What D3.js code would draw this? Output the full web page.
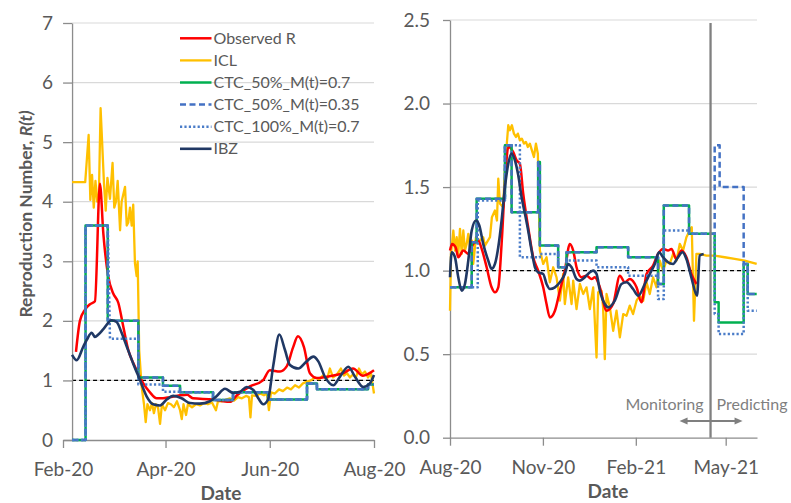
<!DOCTYPE html>
<html><head><meta charset="utf-8">
<script src="https://cdn.jsdelivr.net/npm/d3@7"></script>
<style>
html,body{margin:0;padding:0;background:#fff;}
svg{display:block;font-family:Lato,"Open Sans",sans-serif;}
</style></head><body>
<svg id="chart" width="791" height="503"></svg>
<script>
// ---------- DATA ----------
// x values are day offsets from the panel start date
const leftStart = "2020-02-01";
const rightStart = "2020-08-01";
const leftYAxisDay = 5.3;
const forecastDate = "2021-04-16";

const seriesLabels = ["Observed R", "ICL", "CTC_50%_M(t)=0.7", "CTC_50%_M(t)=0.35", "CTC_100%_M(t)=0.7", "IBZ"];

const leftYTicks = [0, 1, 2, 3, 4, 5, 6, 7];
const rightYTicks = [0, 0.5, 1.0, 1.5, 2.0, 2.5];
const leftXTicks = ["2020-02-01", "2020-04-01", "2020-06-01", "2020-08-01"];
const rightXTicks = ["2020-08-01", "2020-11-01", "2021-02-01", "2021-05-01"];

// ---- left panel (Feb-20 .. Aug-20)
const leftObserved = [[7.6,1.48],[9.9,2.0],[12.9,2.19],[15.8,2.28],[18.7,2.33],[21.6,4.3],[23.6,3.47],[26.5,2.74],[29.4,2.46],[32.4,2.3],[35.3,1.9],[38.2,1.51],[41,1.3],[43.1,1.17],[47,0.95],[50.9,0.8],[54.8,0.7],[58.5,0.7],[62.6,0.72],[68.5,0.75],[72.6,0.76],[76,0.7],[87.8,0.68],[93.6,0.65],[97.7,0.64],[101.8,0.75],[109.4,0.9],[117,1.0],[121,1.17],[127,1.15],[131,1.24],[134.6,1.55],[137.5,1.74],[141,1.56],[144.5,1.12],[148.6,1.04],[156,1.07],[163.8,1.12],[169.7,1.2],[175.5,1.08],[182,1.17]];

const leftICL = [[5.3,4.33],[13,4.33],[15,5.12],[16,4.03],[17,4.45],[18,3.9],[19,4.35],[20,4.0],[21,4.1],[22,5.57],[24,4.3],[25,3.85],[26,4.4],[27.5,4.05],[29,4.65],[30,3.9],[31,4.0],[32,4.35],[33.4,3.52],[34.3,4.0],[36.3,4.25],[37.3,3.6],[38.2,3.65],[39.2,3.9],[40.2,3.6],[41.1,3.95],[42.1,2.97],[43.1,2.75],[43.7,3.0],[44.6,1.5],[46,0.9],[47.4,0.6],[48.4,0.3],[49.4,0.6],[50.9,0.5],[52.1,0.62],[53.2,0.45],[54.4,0.6],[55.6,0.55],[56.8,0.27],[57.9,0.6],[59.7,0.5],[61.4,0.62],[63.2,0.6],[64.9,0.55],[66.7,0.65],[68.5,0.5],[69.5,0.35],[70.5,0.6],[72,0.42],[73.1,0.6],[75.5,0.55],[77.8,0.6],[80.2,0.58],[82.5,0.62],[84.8,0.6],[87.2,0.63],[89.5,0.5],[90.7,0.65],[93,0.65],[95.4,0.68],[97.7,0.7],[100.1,0.66],[102.4,0.72],[104.7,0.7],[107.1,0.74],[108.8,0.72],[109.7,0.38],[110.6,0.75],[112.9,0.74],[115.3,0.78],[117.6,0.75],[119.4,0.78],[120.5,0.5],[121.7,0.8],[124,0.78],[126.4,0.85],[128.7,0.82],[131.1,0.88],[133.4,0.85],[135.8,0.92],[138.1,0.88],[140.4,0.95],[142.8,0.98],[145.1,1.0],[147.5,1.05],[149.8,1.02],[152.1,1.08],[154.5,1.02],[156.2,1.2],[158,1.05],[160.3,1.1],[162.6,1.2],[164.4,1.08],[166.2,1.12],[167.9,1.05],[169.7,1.1],[171.4,1.05],[173.2,1.2],[174.9,1.1],[176.7,1.15],[178.5,1.05],[180.2,1.12],[182,0.78]];

const leftCTC50_07 = [[5.3,0],[13.2,0],[13.2,3.6],[26.2,3.6],[26.2,2.0],[44.1,2.0],[44.1,1.05],[58.5,1.05],[58.5,0.91],[68.5,0.91],[68.5,0.8],[87.8,0.8],[87.8,0.67],[99.5,0.67],[99.5,0.8],[120,0.8],[120,0.68],[142.8,0.68],[142.8,0.95],[148.6,0.95],[148.6,0.85],[178.5,0.85],[178.5,0.93],[182,0.93]];
const leftCTC50_035 = [[5.3,0],[13.2,0],[13.2,3.6],[26.2,3.6],[26.2,2.0],[44.1,2.0],[44.1,1.05],[58.5,1.05],[58.5,0.91],[68.5,0.91],[68.5,0.8],[87.8,0.8],[87.8,0.67],[99.5,0.67],[99.5,0.8],[120,0.8],[120,0.68],[142.8,0.68],[142.8,0.95],[148.6,0.95],[148.6,0.85],[178.5,0.85],[178.5,0.93],[182,0.93]];
const leftCTC100_07 = [[5.3,0],[13.2,0],[13.2,3.6],[26.2,3.6],[27.5,1.7],[44.1,1.7],[44.1,0.93],[58.5,0.93],[58.5,0.81],[68.5,0.81],[68.5,0.8],[87.8,0.8],[87.8,0.67],[99.5,0.67],[99.5,0.8],[120,0.8],[120,0.68],[142.8,0.68],[142.8,0.95],[148.6,0.95],[148.6,0.85],[178.5,0.85],[178.5,0.93],[182,0.93]];

const leftIBZ = [[5.3,1.43],[8,1.34],[11.9,1.57],[13.9,1.68],[16.8,1.8],[18.7,1.73],[20.7,1.77],[23.6,1.86],[28.5,2.01],[31.4,1.98],[34.3,1.8],[37.3,1.57],[41,1.29],[45,1.01],[49,0.73],[52.8,0.6],[56.8,0.58],[60.7,0.68],[64.5,0.74],[69.4,0.7],[74.3,0.62],[80,0.61],[86,0.65],[90,0.74],[94.8,0.86],[99.6,0.79],[103.6,0.81],[107.5,0.89],[111.4,0.84],[114.3,0.7],[117.2,0.6],[120,0.68],[123,1.24],[126.6,1.77],[129.9,1.51],[132.8,1.26],[137.7,1.2],[142.6,1.32],[146.5,1.4],[149.4,1.32],[153.3,1.06],[158.2,0.92],[162,1.06],[167,1.23],[170.9,1.06],[175.7,0.89],[179.6,0.95],[182,1.09]];

// ---- right panel (Aug-20 .. Jun-21)
const rightObserved = [[0,1.12],[2,1.16],[5.6,1.14],[8.2,1.08],[13.2,1.12],[18.1,1.1],[23,1.16],[28,1.18],[31.4,1.13],[36.3,1.02],[41.2,0.9],[44.5,0.87],[47.8,0.9],[51.1,1.16],[54.4,1.52],[57.7,1.74],[62.6,1.71],[66,1.66],[69.2,1.64],[72.5,1.46],[77.4,1.26],[82.4,1.08],[87.3,1.0],[92.3,0.9],[95.6,0.8],[98.9,0.72],[103.9,0.76],[108.8,0.88],[113.7,1.0],[118.7,1.16],[122,1.12],[125.3,1.02],[130.3,0.96],[135.2,0.97],[140.2,0.95],[143.4,0.96],[148.4,0.9],[155,0.76],[161.5,0.8],[168.2,0.97],[173.1,0.93],[178,0.95],[184.7,0.9],[189.6,0.81],[194.6,0.98],[201.1,1.03],[206,1.1],[211,1.13],[215.9,1.12],[219.3,1.13],[224.2,1.07],[229.2,1.12],[234.1,1.08],[239,0.98],[244,0.92]];

const rightICL = [[0,0.76],[1,1.1],[2,1.16],[3.3,1.24],[5,1.12],[6.6,1.2],[8.2,1.1],[9.9,1.25],[11.6,1.1],[13.2,1.24],[14.8,1.12],[16.5,1.16],[18.1,1.22],[19.8,1.14],[21.8,1.18],[23,1.04],[25.7,1.2],[29.7,1.18],[32.9,1.2],[34.6,1.15],[39.6,1.2],[41.5,1.32],[44.5,1.36],[46.5,1.3],[47.8,1.55],[49.5,1.4],[52.7,1.38],[54.4,1.62],[57.7,1.87],[59.3,1.84],[61.3,1.87],[63.3,1.82],[65.3,1.8],[67.2,1.82],[69.2,1.78],[71.2,1.79],[73.2,1.76],[75.2,1.77],[77.1,1.74],[79.1,1.76],[81.1,1.72],[83.1,1.68],[85.1,1.76],[87,1.7],[89,1.12],[92.3,1.04],[95.6,1.08],[98.9,0.93],[102.2,1.02],[105.5,0.96],[108.8,0.82],[112.1,0.98],[113.7,0.8],[117,0.96],[120.4,0.8],[122,0.94],[125.3,0.77],[128.6,0.92],[131.9,0.86],[135.2,0.9],[138.5,0.77],[141.8,0.9],[145.1,0.48],[146.7,0.87],[150,0.88],[151.6,0.78],[153.3,0.47],[155,0.86],[158.3,0.78],[161.6,0.64],[164.9,0.76],[168.2,0.6],[171.5,0.74],[174.8,0.73],[178,0.79],[181.3,0.74],[184.7,0.82],[188,0.85],[191.3,0.82],[194.6,0.93],[197.8,0.86],[201.1,0.96],[204.5,0.9],[207.7,1.06],[211,1.0],[214.4,1.06],[217.6,1.04],[220.9,1.1],[224.3,1.06],[227.5,1.16],[230.8,1.12],[234.1,1.2],[237.4,1.24],[239.4,1.26],[241.6,0.7],[244,1.1],[247.3,1.1],[253.9,1.09],[262.1,1.09],[272,1.08],[281.9,1.07],[291.8,1.06],[303.7,1.04]];

const rightCTC50_07 = [[0,0.9],[21.5,0.9],[21.5,1.17],[26.4,1.17],[26.4,1.43],[54.4,1.43],[54.4,1.75],[61,1.75],[61,1.35],[87.3,1.35],[87.3,1.65],[89,1.65],[89,1.15],[107.1,1.15],[107.1,1.02],[115.4,1.02],[115.4,1.11],[145.1,1.11],[145.1,1.14],[176.4,1.14],[176.4,1.08],[206,1.08],[206,0.92],[211.7,0.92],[211.7,1.39],[236.7,1.39],[236.7,1.22],[262.1,1.22],[262.1,0.81],[266,0.81],[266,0.69],[290.8,0.69],[290.8,1.04],[294.8,1.04],[294.8,0.86],[303.7,0.86]];
const rightCTC50_035 = [[0,0.9],[21.5,0.9],[21.5,1.17],[26.4,1.17],[26.4,1.43],[54.4,1.43],[54.4,1.75],[61,1.75],[61,1.35],[87.3,1.35],[87.3,1.65],[89,1.65],[89,1.15],[107.1,1.15],[107.1,1.02],[115.4,1.02],[115.4,1.11],[145.1,1.11],[145.1,1.14],[176.4,1.14],[176.4,1.08],[206,1.08],[206,0.92],[211.7,0.92],[211.7,1.39],[236.7,1.39],[236.7,1.22],[262.1,1.22],[262.1,1.75],[267,1.75],[267,1.5],[290.8,1.5],[290.8,1.04],[294.8,1.04],[294.8,0.86],[303.7,0.86]];
const rightCTC100_07 = [[0,0.9],[27.5,0.9],[27.5,1.42],[54.4,1.42],[54.4,1.75],[69.2,1.75],[69.2,1.08],[89,1.08],[89,1.1],[107.1,1.1],[107.1,1.02],[115.4,1.02],[115.4,1.06],[145.1,1.06],[145.1,1.02],[176.4,1.02],[176.4,0.97],[206,0.97],[206,0.83],[211.7,0.83],[211.7,1.24],[236.7,1.24],[236.7,1.22],[262.1,1.22],[262.1,0.74],[266,0.74],[266,0.62],[290.8,0.62],[290.8,1.04],[294.8,1.04],[294.8,0.76],[303.7,0.76]];

const rightIBZ = [[0,0.96],[1.7,1.11],[4.9,1.08],[8.2,0.96],[11.6,0.88],[14.8,0.92],[18.1,1.06],[21.5,1.24],[25.7,1.3],[29,1.27],[32.9,1.16],[37.9,1.06],[41.2,1.01],[44.5,1.04],[47.8,1.14],[51.1,1.3],[54.4,1.5],[57.7,1.64],[61,1.7],[64.3,1.66],[67.6,1.57],[70.9,1.44],[74.2,1.34],[77.4,1.24],[80.8,1.12],[84.1,1.02],[87.3,0.99],[92.3,0.98],[95.6,0.92],[98.9,0.89],[103.9,0.9],[108.8,0.93],[113.7,0.98],[117,1.04],[120.4,1.02],[125.3,0.95],[128.6,0.94],[133.5,0.96],[138.5,0.99],[141.7,1.0],[145.1,0.98],[148.4,0.88],[153.3,0.8],[156.6,0.78],[163.2,0.82],[169.8,0.92],[174.8,0.93],[181.3,0.89],[186.3,0.85],[192.9,0.92],[197.8,0.98],[202.8,1.04],[207,1.11],[211,1.08],[215.9,1.05],[220.9,1.04],[225.8,1.08],[230.2,1.11],[234.1,1.07],[239,0.96],[244.6,0.85],[247.3,1.09],[251.2,1.1]];

// ---------- STYLES ----------
const styles = [
  {color:"#FF0000", dash:null, width:2.5, smooth:true},
  {color:"#FFC000", dash:null, width:2.3, smooth:false},
  {color:"#00B050", dash:null, width:2.5, smooth:false},
  {color:"#4472C4", dash:"6,3.5", width:2.5, smooth:false},
  {color:"#4A7CC8", dash:"2.2,2.2", width:2.5, smooth:false},
  {color:"#203864", dash:null, width:2.6, smooth:true}
];
const drawOrder = [1, 0, 2, 3, 4, 5];
const axisColor = "#8c8c8c", textColor = "#595959", gridColor = "#d9d9d9";

const svg = d3.select("#chart");
svg.append("rect").attr("width",791).attr("height",503).attr("fill","#fff");
const DAY = 864e5;
const toDate = (start, d) => new Date(Date.parse(start + "T00:00:00Z") + d * DAY);
const parse = s => new Date(Date.parse(s + "T00:00:00Z"));

function drawPanel(cfg) {
  const {x, y, start, yAxisX, xEnd, yTicks, minorStep, yFormat, xTicks, xAxisY,
         majorY, minorY, yPad, series} = cfg;
  const g = svg.append("g");
  // gridlines
  g.selectAll(".grid").data(yTicks.filter(v => v > 0)).join("line")
    .attr("x1", yAxisX).attr("x2", xEnd)
    .attr("y1", d => y(d)).attr("y2", d => y(d))
    .attr("stroke", gridColor).attr("stroke-width", 1.2);
  // reference line at R=1
  g.append("line").attr("x1", yAxisX).attr("x2", xEnd)
    .attr("y1", y(1)).attr("y2", y(1))
    .attr("stroke", "#000").attr("stroke-width", 1.2).attr("stroke-dasharray", "4,3");

  // x axis
  const xMinor = d3.utcMonth.range(x.domain()[0], d3.utcMonth.offset(x.domain()[1], 1));
  const gx = g.append("g").attr("transform", `translate(0,${xAxisY})`);
  gx.call(d3.axisBottom(x).tickValues(xMinor).tickSize(5).tickSizeOuter(0).tickFormat(""));
  gx.call(d3.axisBottom(x).tickValues(xTicks.map(parse)).tickSize(8).tickSizeOuter(0)
      .tickPadding(15).tickFormat(d3.utcFormat("%b-%y")));
  // y axis
  const gy = g.append("g").attr("transform", `translate(${yAxisX},0)`);
  const minors = d3.range(0, yTicks[yTicks.length-1] + 1e-9, minorStep);
  gy.call(d3.axisLeft(y).tickValues(minors).tickSize(minorY).tickSizeOuter(0).tickFormat(""));
  gy.call(d3.axisLeft(y).tickValues(yTicks).tickSize(majorY).tickSizeOuter(0)
      .tickPadding(yPad).tickFormat(yFormat));
  [gx, gy].forEach(a => {
    a.selectAll("path.domain").attr("stroke", axisColor).attr("stroke-width", 1.3);
    a.selectAll(".tick line").attr("stroke", axisColor).attr("stroke-width", 1.3);
    a.selectAll(".tick text").attr("fill", textColor).style("font-size", "19px")
      .style("font-family", "Lato, 'Open Sans', sans-serif");
  });

  // series
  drawOrder.forEach(i => {
    const st = styles[i];
    const line = d3.line()
      .x(p => x(toDate(start, p[0]))).y(p => y(p[1]))
      .curve(st.smooth ? d3.curveMonotoneX : d3.curveLinear);
    g.append("path").datum(series[i])
      .attr("d", line).attr("fill", "none")
      .attr("stroke", st.color).attr("stroke-width", st.width)
      .attr("stroke-linejoin", "round")
      .attr("stroke-dasharray", st.dash);
  });
  return g;
}

// ---- left panel
const xL = d3.scaleUtc().domain([parse("2020-02-01"), parse("2020-08-01")]).range([63, 374]);
const yL = d3.scaleLinear().domain([0, 7]).range([440, 23]);
drawPanel({x: xL, y: yL, start: leftStart, yAxisX: xL(toDate(leftStart, leftYAxisDay)), xEnd: 374,
  yTicks: leftYTicks, minorStep: 0.2, yFormat: d3.format("d"), xTicks: leftXTicks, xAxisY: 440,
  majorY: 9, minorY: 5, yPad: 10,
  series: [leftObserved, leftICL, leftCTC50_07, leftCTC50_035, leftCTC100_07, leftIBZ]});

// ---- right panel
const xR = d3.scaleUtc().domain([parse("2020-08-01"), parse("2021-06-01")]).range([450, 757]);
const yR = d3.scaleLinear().domain([0, 2.5]).range([437.7, 20]);
drawPanel({x: xR, y: yR, start: rightStart, yAxisX: 450, xEnd: 757,
  yTicks: rightYTicks, minorStep: 0.1, yFormat: d3.format(".1f"), xTicks: rightXTicks, xAxisY: 437.7,
  majorY: 7, minorY: 4, yPad: 13,
  series: [rightObserved, rightICL, rightCTC50_07, rightCTC50_035, rightCTC100_07, rightIBZ]});

// forecast divider + annotation
const fx = xR(parse(forecastDate));
svg.append("line").attr("x1", fx).attr("x2", fx).attr("y1", 23).attr("y2", 437.7)
  .attr("stroke", "#808080").attr("stroke-width", 2.3);
const ann = svg.append("g").attr("fill", "#7f7f7f").style("font-size", "16px");
ann.append("text").attr("x", fx - 7).attr("y", 410).attr("text-anchor", "end").text("Monitoring");
ann.append("text").attr("x", fx + 6).attr("y", 410).attr("text-anchor", "start").text("Predicting");
const ay = 421;
svg.append("line").attr("x1", fx - 24).attr("x2", fx + 25).attr("y1", ay).attr("y2", ay)
  .attr("stroke", "#7f7f7f").attr("stroke-width", 2);
svg.append("path").attr("d", `M${fx-31},${ay} L${fx-23},${ay-3.5} L${fx-23},${ay+3.5} Z`).attr("fill", "#7f7f7f");
svg.append("path").attr("d", `M${fx+32},${ay} L${fx+24},${ay-3.5} L${fx+24},${ay+3.5} Z`).attr("fill", "#7f7f7f");

// axis titles
svg.append("text").attr("x", 221).attr("y", 500).attr("text-anchor", "middle")
  .attr("fill", textColor).style("font-size", "19px").style("font-weight", "bold").text("Date");
svg.append("text").attr("x", 608).attr("y", 498).attr("text-anchor", "middle")
  .attr("fill", textColor).style("font-size", "19px").style("font-weight", "bold").text("Date");
const yt = svg.append("text").attr("transform", "translate(32,214) rotate(-90)")
  .attr("text-anchor", "middle").attr("fill", textColor)
  .style("font-size", "17.5px").style("font-weight", "bold");
yt.append("tspan").text("Reproduction Number, ");
yt.append("tspan").style("font-style", "italic").text("R(t)");

// legend
const lg = svg.append("g");
seriesLabels.forEach((name, i) => {
  const cy = 38.3 + i * 22.1;
  const st = styles[i];
  lg.append("line").attr("x1", 180).attr("x2", 211.5).attr("y1", cy).attr("y2", cy)
    .attr("stroke", st.color).attr("stroke-width", st.width).attr("stroke-dasharray", st.dash);
  lg.append("text").attr("x", 213.5).attr("y", cy).attr("dy", "0.35em")
    .attr("fill", textColor).style("font-size", "16px").text(name);
});
</script>
</body></html>
